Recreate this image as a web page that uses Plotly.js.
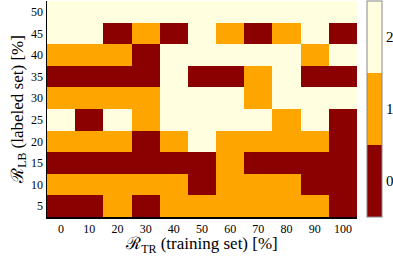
<!DOCTYPE html>
<html><head><meta charset="utf-8">
<script src="https://cdn.plot.ly/plotly-3.0.1.min.js"></script>
<style>html,body{margin:0;padding:0;background:#fff}#c{width:393px;height:256px}</style>
</head><body><div id="c"></div>
<script>
const trainingPct = [0,10,20,30,40,50,60,70,80,90,100];
const labeledPct = [5,10,15,20,25,30,35,40,45,50];
const row5  = [0,0,1,0,1,1,1,1,1,1,0];
const row10 = [1,1,1,1,1,0,1,1,1,0,0];
const row15 = [0,0,0,0,0,0,1,0,0,0,0];
const row20 = [1,1,1,0,1,2,1,1,1,1,0];
const row25 = [2,0,2,1,2,2,2,2,1,2,0];
const row30 = [1,1,1,1,2,2,2,1,2,2,2];
const row35 = [0,0,0,0,2,0,0,1,2,0,0];
const row40 = [1,1,1,0,2,2,2,2,2,1,2];
const row45 = [2,2,0,1,0,2,1,0,1,2,0];
const row50 = [2,2,2,2,2,2,2,2,2,2,2];
const cbTicks = [0,1,2];

const z = [row5,row10,row15,row20,row25,row30,row35,row40,row45,row50];
const fam = 'Liberation Serif';
const f = s => ({family:fam, size:s, color:'#000'});

Plotly.newPlot('c', [{
  type:'heatmap', x:trainingPct, y:labeledPct, z:z,
  zmin:-0.5, zmax:2.5,
  colorscale:[[0,'#8b0000'],[1/3,'#8b0000'],[1/3,'#ffa500'],[2/3,'#ffa500'],[2/3,'#ffffe0'],[1,'#ffffe0']],
  colorbar:{x:1.032, xanchor:'left', xpad:0, ypad:0, thickness:15, len:1, y:0.5, yanchor:'middle',
    tickvals:cbTicks, ticktext:cbTicks.map(String), ticks:'', outlinecolor:'#888', outlinewidth:1,
    tickfont:f(15)},
  hoverinfo:'skip'
}], {
  width:393, height:256,
  margin:{l:47, r:36, t:1, b:39},
  paper_bgcolor:'#fff', plot_bgcolor:'#fff',
  font:f(12),
  xaxis:{tickvals:trainingPct, ticks:'', showline:true, linecolor:'#000', linewidth:1.5,
    showgrid:false, zeroline:false, tickfont:f(12),
    title:{text:'ℛ<sub>TR</sub> (training set) [%]', font:f(17), standoff:3}},
  yaxis:{tickvals:labeledPct, ticks:'', showline:true, linecolor:'#000', linewidth:1.5,
    showgrid:false, zeroline:false, tickfont:f(12),
    title:{text:'ℛ<sub>LB</sub> (labeled set) [%]', font:f(17), standoff:3}}
}, {staticPlot:true, displayModeBar:false});
</script></body></html>
